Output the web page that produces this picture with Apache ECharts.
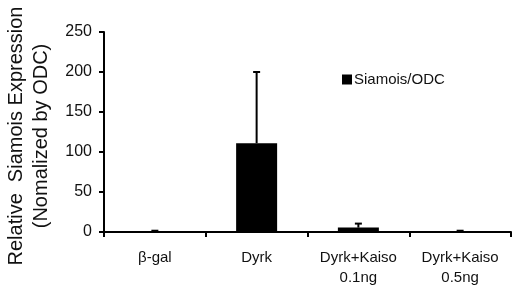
<!DOCTYPE html>
<html>
<head>
<meta charset="utf-8">
<script src="https://cdn.jsdelivr.net/npm/echarts@6/dist/echarts.min.js"></script>
<style>
html, body { margin: 0; padding: 0; background: #fff; }
#chart { width: 512px; height: 291px; }
</style>
</head>
<body>
<div id="chart"></div>
<script>
// data
var categories = ['β-gal', 'Dyrk', 'Dyrk+Kaiso\n0.1ng', 'Dyrk+Kaiso\n0.5ng'];
var meanValues = [0.4, 111, 5.5, 0.4];
var errorValues = [1.2, 89, 5, 1.2];
var yTicks = [0, 50, 100, 150, 200, 250];

var errorData = categories.map(function (c, i) {
    return [i, meanValues[i], meanValues[i] + errorValues[i]];
});

var myChart = echarts.init(document.getElementById('chart'));
var options = {
    animation: false,
    backgroundColor: '#fff',
    textStyle: {fontFamily: 'Liberation Sans, Arial, sans-serif', color: '#111'},
    grid: {left: 104, right: 1, top: 32, bottom: 59, outerBoundsMode: 'none'},
    legend: {
        left: 337,
        top: 67,
        itemWidth: 10,
        itemHeight: 10,
        itemGap: 4,
        icon: 'rect',
        textStyle: {fontSize: 15, color: '#111', padding: [0, 0, 0, -3]},
        data: ['Siamois/ODC']
    },
    xAxis: {
        type: 'category',
        data: categories,
        axisLine: {lineStyle: {color: '#000', width: 2}},
        axisTick: {show: true, length: 5, lineStyle: {color: '#000', width: 2}},
        axisLabel: {fontSize: 15, color: '#111', margin: 16, lineHeight: 20}
    },
    yAxis: {
        type: 'value',
        min: yTicks[0],
        max: yTicks[yTicks.length - 1],
        interval: 50,
        name: 'Relative  Siamois Expression\n(Nomalized by ODC)',
        nameLocation: 'middle',
        nameRotate: 90,
        nameGap: 44,
        nameTextStyle: {fontSize: 20, color: '#111', lineHeight: 25, padding: [0, 8, 0, 0]},
        axisLine: {show: true, lineStyle: {color: '#000', width: 2}},
        axisTick: {show: true, length: 5, lineStyle: {color: '#000', width: 2}},
        axisLabel: {fontSize: 16, color: '#111', margin: 12},
        splitLine: {show: false}
    },
    series: [
        {
            name: 'Siamois/ODC',
            type: 'bar',
            barWidth: 41,
            itemStyle: {color: '#000'},
            data: meanValues
        },
        {
            name: 'error',
            type: 'custom',
            data: errorData,
            z: 3,
            renderItem: function (params, api) {
                var x = api.value(0);
                var lo = api.coord([x, api.value(1)]);
                var hi = api.coord([x, api.value(2)]);
                var style = {stroke: '#000', lineWidth: 2, fill: null};
                return {
                    type: 'group',
                    children: [
                        {type: 'line', shape: {x1: lo[0], y1: lo[1], x2: hi[0], y2: hi[1]}, style: style},
                        {type: 'line', shape: {x1: hi[0] - 3.5, y1: hi[1], x2: hi[0] + 3.5, y2: hi[1]}, style: style}
                    ]
                };
            }
        }
    ]
};
myChart.setOption(options);
</script>
</body>
</html>
